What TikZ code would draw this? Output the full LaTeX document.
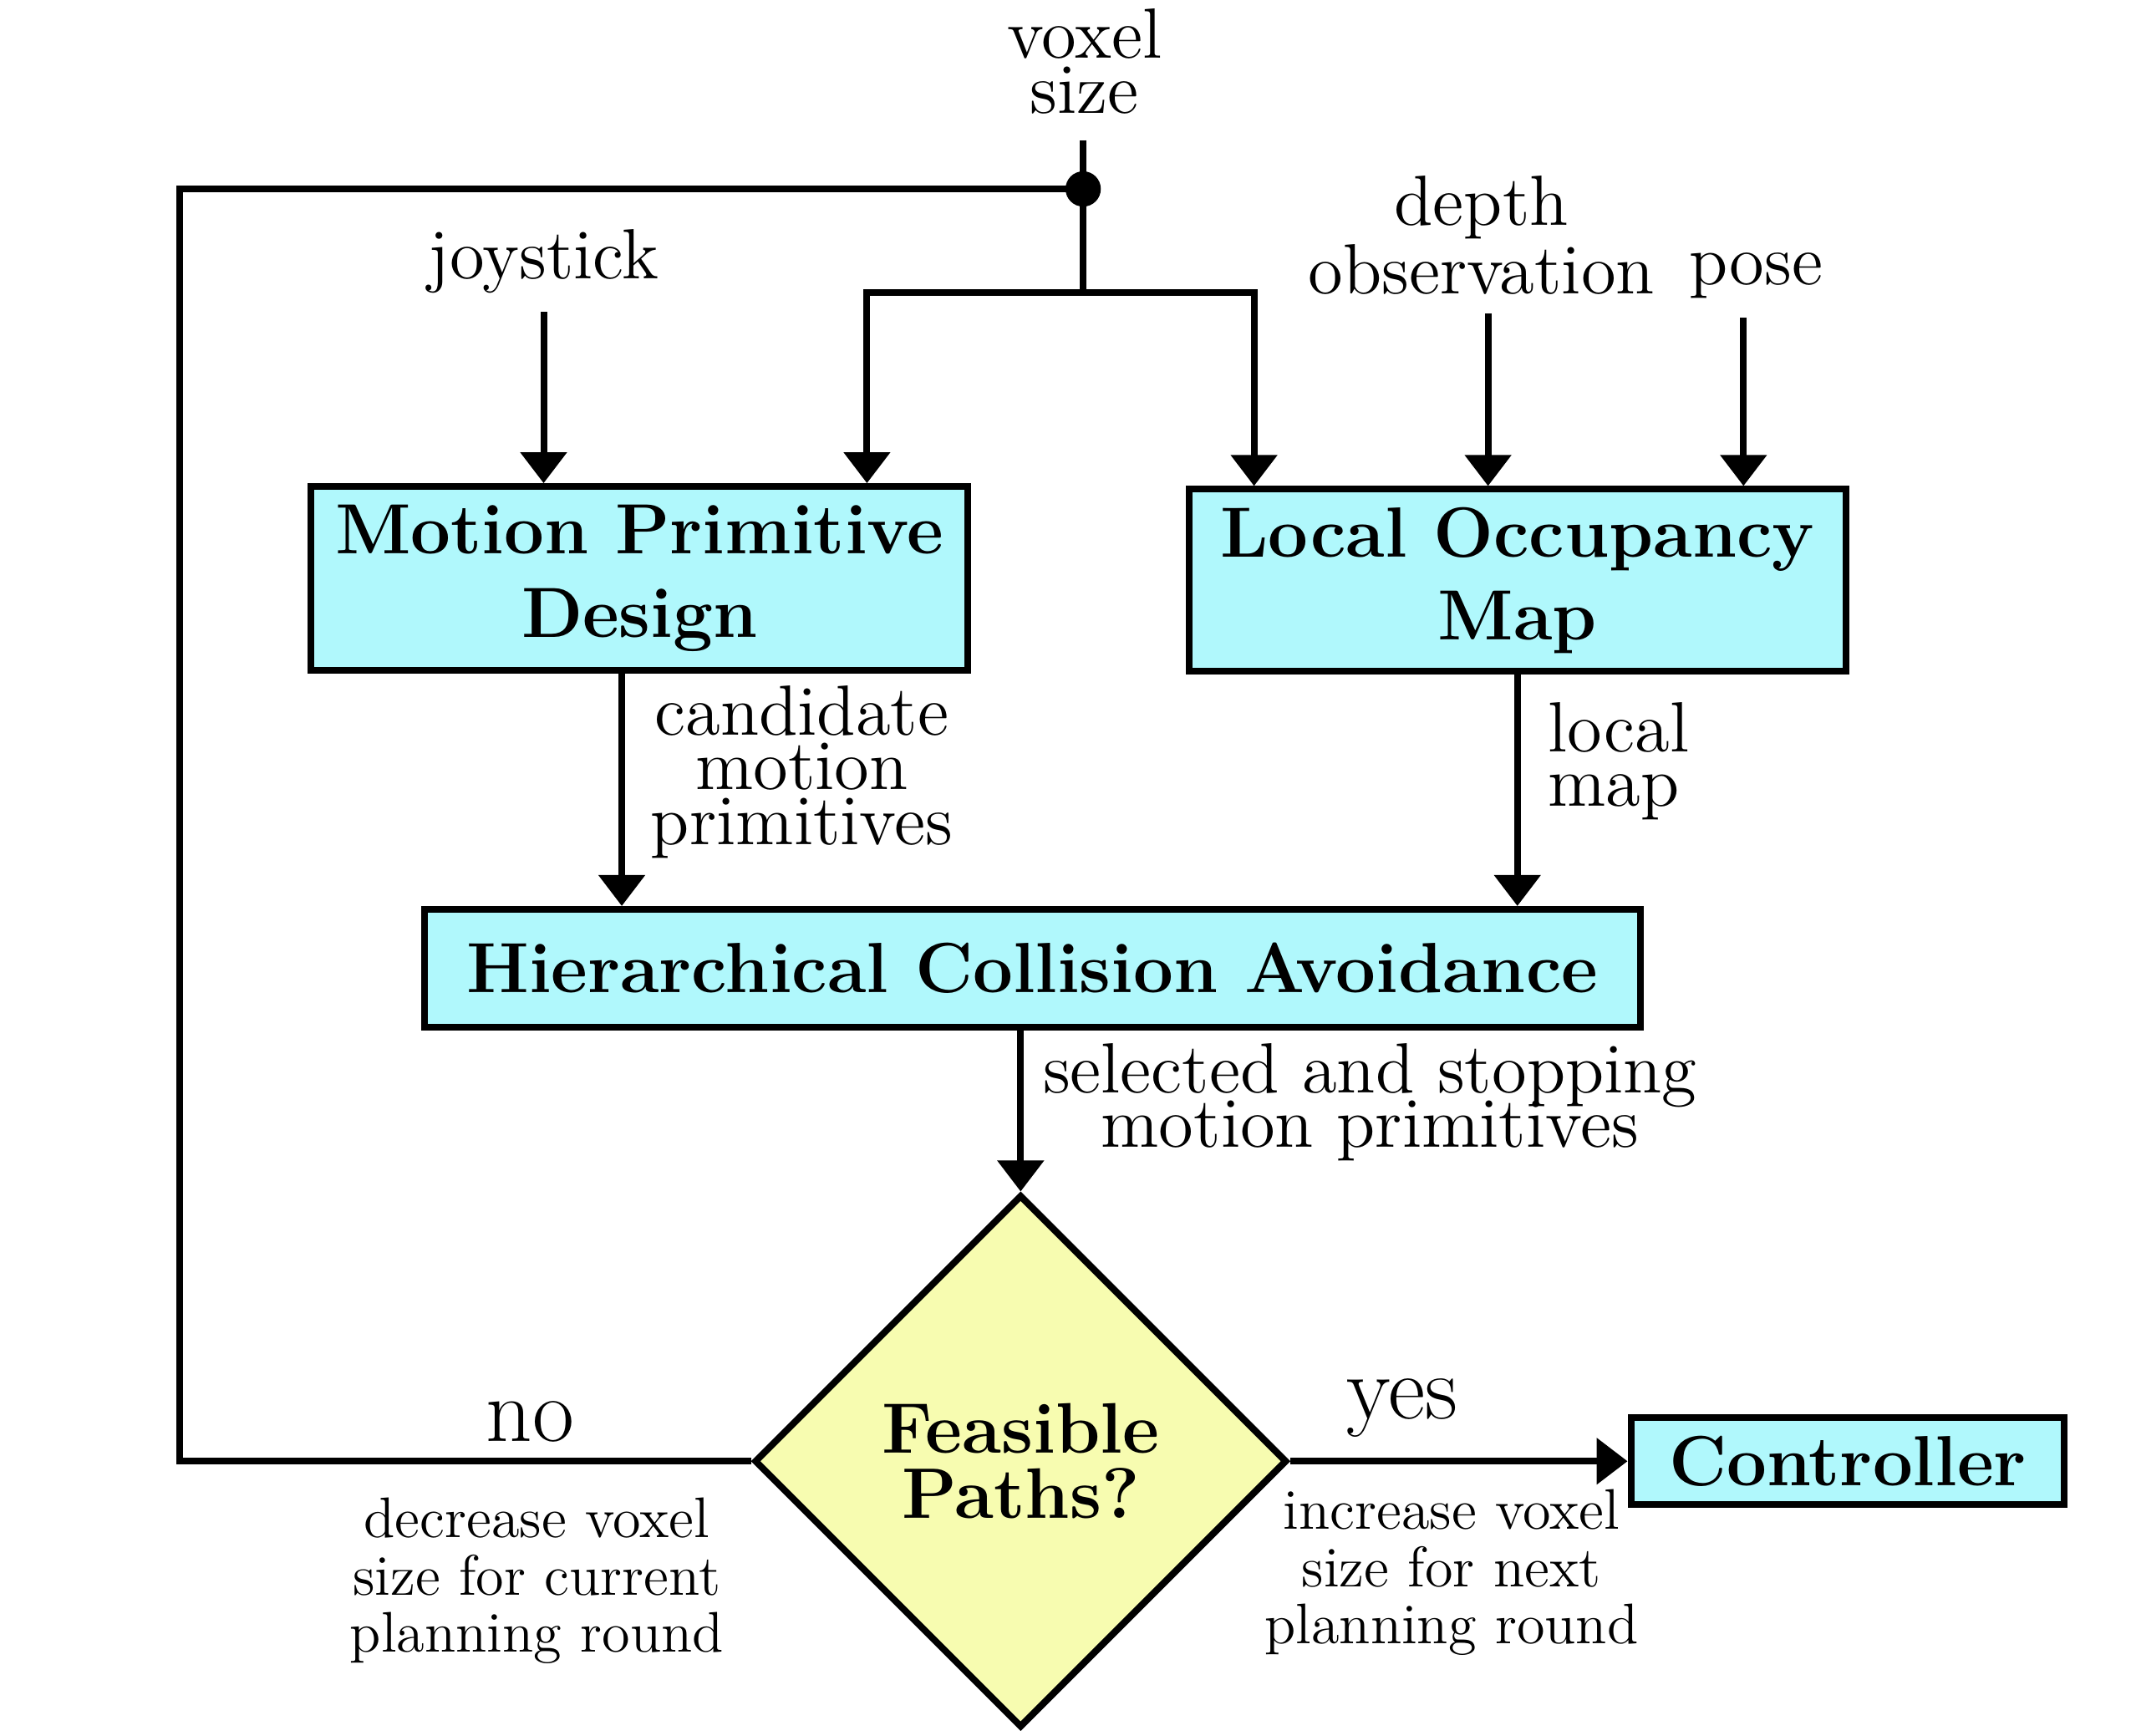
\documentclass[tikz,border=0pt]{standalone}
\usetikzlibrary{calc,arrows.meta,shapes.geometric}
\definecolor{boxcyan}{RGB}{176,248,252}
\definecolor{boxyellow}{RGB}{247,252,176}

\begin{document}
\begin{tikzpicture}[x=0.285pt,y=-0.285pt,line width=1.4pt,>={Triangle[length=6.5pt,width=9.5pt]},
  blk/.style={draw,fill=boxcyan,font={\fontsize{14.9}{17.4}\selectfont\bfseries},align=center,inner sep=0pt},
  lbl/.style={font={\fontsize{14.9}{11.5}\selectfont\lineskiplimit=-\maxdimen},align=center},
  note/.style={font={\fontsize{12}{12}\selectfont\lineskiplimit=-\maxdimen},align=center}]
  \useasboundingbox (0,0) rectangle (1568,1277);
  \node[blk,minimum width=137.7pt,minimum height=38.5pt] (mpd) at (470.5,425.5) {Motion Primitive\\Design};
  \node[blk,minimum width=137.7pt,minimum height=38.2pt] (lom) at (1116.5,427) {Local Occupancy\\Map};
  \node[blk,minimum width=255pt,minimum height=24.8pt] (hca) at (759.5,712.5) {Hierarchical Collision Avoidance};
  \node[draw,diamond,fill=boxyellow,minimum width=111.7pt,minimum height=111.7pt,inner sep=0pt,
    font={\fontsize{15}{13.7}\selectfont\bfseries},align=center] (feas) at (751,1075) {Feasible\\Paths?};
  \node[blk,minimum width=90.9pt,minimum height=18.2pt] (ctrl) at (1359.5,1075) {Controller};
  \node[circle,fill,inner sep=0pt,minimum size=7.4pt] (dot) at (797,139) {};
  \node[lbl] (vox) at (798,45) {voxel\\size};
  \node[lbl] (joy) at (400,192) {joystick};
  \node[lbl,font={\fontsize{14.9}{12.8}\selectfont}] (dep) at (1090,173) {depth\\observation};
  \node[lbl] (pose) at (1292,203) {pose};
  \node[lbl] (cand) at (590,568) {candidate\\motion\\primitives};
  \node[lbl,align=left,anchor=west] (lmap) at (1125,560) {local\\map};
  \node[lbl] (sel) at (1008,811) {selected and stopping\\motion primitives};
  \node[font={\fontsize{19}{22}\selectfont}] (no) at (390,1046) {no};
  \node[font={\fontsize{19}{22}\selectfont}] (yes) at (1032,1036) {yes};
  \node[note] (dec) at (395,1163) {decrease voxel\\size for current\\planning round};
  \node[note] (inc) at (1068,1157) {increase voxel\\size for next\\planning round};
  \coordinate (vin) at (797,103);
  \coordinate (split) at (797,215);
  \coordinate (loop) at (132,1075);
  \draw (vin) -- (dot.center) -- (split);
  \draw[->] (split) -| ($(mpd.north west)!0.843!(mpd.north east)$);
  \draw[->] (split) -| ($(lom.north west)!0.103!(lom.north east)$);
  \draw[->] (joy.south) -- (joy.south |- mpd.north);
  \draw[->] ([xshift=1.4pt]dep.south) -- ([xshift=1.4pt]dep.south |- lom.north);
  \draw[->] ([xshift=-2.6pt]pose.south) -- ([xshift=-2.6pt]pose.south |- lom.north);
  \draw[->] ([xshift=-3.7pt]mpd.south) -- ([xshift=-3.7pt]mpd.south |- hca.north);
  \draw[->] (lom.south) -- (lom.south |- hca.north);
  \draw[->] (hca.south -| feas.north) -- (feas.north);
  \draw[->] (feas.east) -- (ctrl.west);
  \draw (feas.west) -- (loop) |- (dot.center);
\end{tikzpicture}
\end{document}
